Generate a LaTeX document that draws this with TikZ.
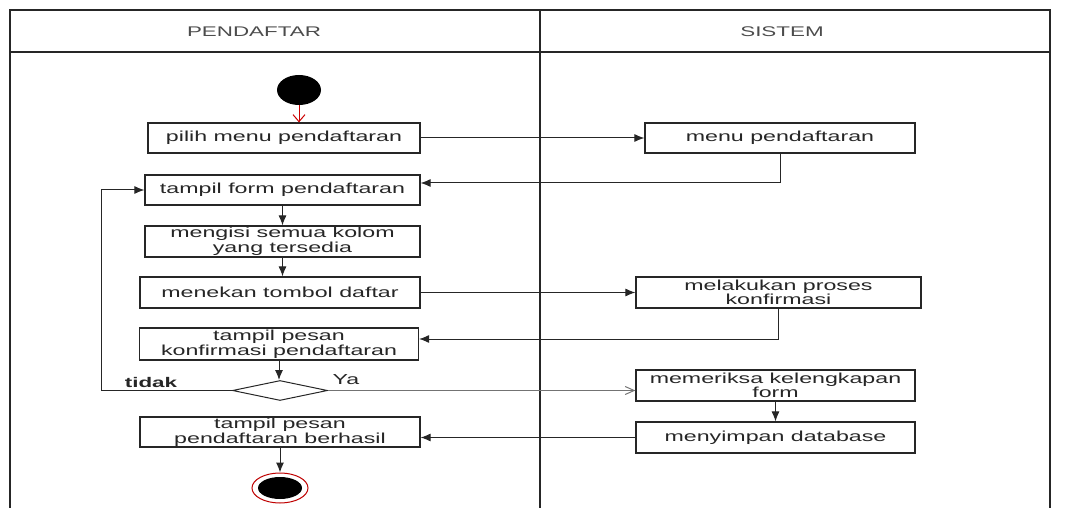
\documentclass[tikz,border=0pt]{standalone}
\usepackage{fontspec}
\newfontfamily\diafont[FakeStretch=1.6]{Liberation Sans}
\usetikzlibrary{arrows.meta,shapes.geometric}
\begin{document}
\begin{tikzpicture}[x=1pt,y=-1pt,
  lane/.style={draw=black!85, line width=1.3pt},
  lanetitle/.style={inner sep=0pt, text=black!70, font=\diafont\fontsize{14}{14}\selectfont},
  actbox/.style={draw=black!85, line width=1.2pt, inner sep=0pt, align=center,
    minimum height=30pt, text=black!85, font=\diafont\fontsize{14.5}{12.5}\selectfont},
  guard/.style={inner sep=0pt, text=black!85, font=\diafont\fontsize{14.5}{14}\selectfont},
  flow/.style={draw=black!85, line width=1pt, -{Latex[length=10pt,width=8pt]}},
  startflow/.style={draw=red!80!black, line width=1pt, -{Straight Barb[length=7pt,width=12pt]}},
  openflow/.style={draw=black!55, line width=1pt, -{Straight Barb[length=9pt,width=8pt]}}]
\useasboundingbox (0,0) rectangle (1072,508);
% swimlanes
\draw[lane] (10,508) -- (10,10) -- (1050,10) -- (1050,508);
\draw[lane] (10,52) -- (1050,52);
\draw[lane] (540,10) -- (540,508);
\node[lanetitle] (lanePendaftar) at (254,32) {PENDAFTAR};
\node[lanetitle] (laneSistem) at (782,32) {SISTEM};
% pendaftar
\node[ellipse, fill=black, inner sep=0pt, minimum width=44pt, minimum height=30pt] (start) at (299,90) {};
\node[actbox, minimum width=272pt] (pilihMenu) at (284,138) {pilih menu pendaftaran};
\node[actbox, minimum width=275pt] (tampilForm) at (282.5,190) {tampil form pendaftaran};
\node[actbox, minimum width=275pt, minimum height=31pt] (isiKolom) at (282.5,241.5) {mengisi semua kolom\\yang tersedia};
\node[actbox, minimum width=280pt, minimum height=31pt] (tekanDaftar) at (280,292.5) {menekan tombol daftar};
\node[actbox, minimum width=279pt, minimum height=32pt] (pesanKonfirmasi) at (279,344) {tampil pesan\\konfirmasi pendaftaran};
\node[diamond, draw=black!85, line width=1pt, inner sep=0pt, minimum width=95pt, minimum height=20pt] (pilihan) at (280,390.5) {};
\node[actbox, minimum width=280pt] (pesanBerhasil) at (280,432) {tampil pesan\\pendaftaran berhasil};
\node[ellipse, draw=red!75!black, line width=1pt, fill=white, inner sep=0pt, minimum width=56pt, minimum height=30pt] (finish) at (280,488) {};
\node[ellipse, fill=black, inner sep=0pt, minimum width=44pt, minimum height=22pt] (finishDot) at (finish) {};
\node[guard, font=\diafont\bfseries\fontsize{14}{14}\selectfont] (lblTidak) at (151,382) {tidak};
\node[guard] (lblYa) at (346,380) {Ya};
% sistem
\node[actbox, minimum width=270pt] (sysMenu) at (780,138) {menu pendaftaran};
\node[actbox, minimum width=285pt, minimum height=31pt] (sysKonfirmasi) at (778.5,292.5) {melakukan proses\\konfirmasi};
\node[actbox, minimum width=279pt, minimum height=31pt] (sysPeriksa) at (775.5,385.5) {memeriksa kelengkapan\\form};
\node[actbox, minimum width=279pt, minimum height=31pt] (sysSimpan) at (775.5,437.5) {menyimpan database};
% alur
\draw[startflow] (start.south) -- (start.south |- pilihMenu.north);
\draw[flow] (pilihMenu.east) -- (sysMenu.west);
\draw[flow] (sysMenu.south) |- ([yshift=7pt]tampilForm.east);
\draw[flow] (tampilForm.south) -- (isiKolom.north);
\draw[flow] (isiKolom.south) -- (isiKolom.south |- tekanDaftar.north);
\draw[flow] (tekanDaftar.east) -- (tekanDaftar.east -| sysKonfirmasi.west);
\draw[flow] (sysKonfirmasi.south) |- ([yshift=5pt]pesanKonfirmasi.east);
\draw[flow] (pesanKonfirmasi.south) -- (pesanKonfirmasi.south |- pilihan.north);
\draw[flow] (pilihan.west) -| ([xshift=-43pt]tampilForm.west) -- (tampilForm.west);
\draw[openflow] (pilihan.east) -- (pilihan.east -| sysPeriksa.west);
\draw[flow] (sysPeriksa.south) -- (sysPeriksa.south |- sysSimpan.north);
\draw[flow] (sysSimpan.west) -- (sysSimpan.west -| pesanBerhasil.east);
\draw[flow] (pesanBerhasil.south) -- (finish.north);
\end{tikzpicture}
\end{document}
